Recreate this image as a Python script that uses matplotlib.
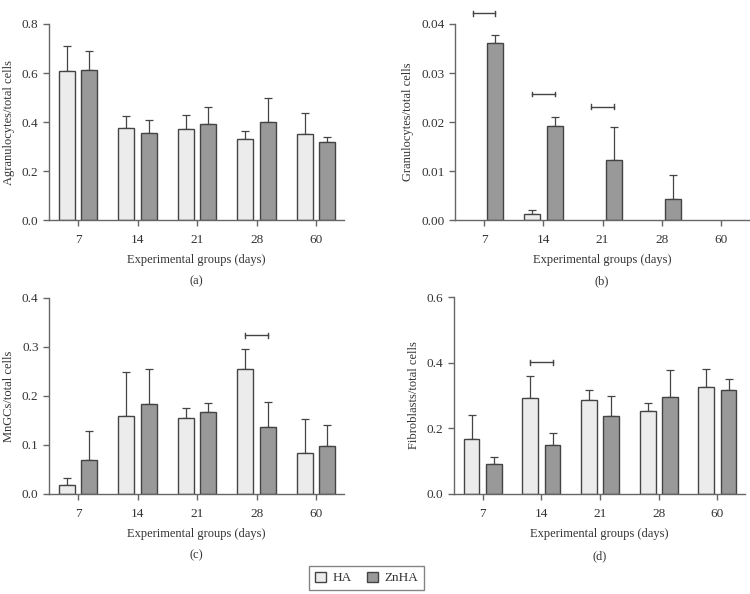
import matplotlib
matplotlib.use("Agg")
import matplotlib.pyplot as plt
from matplotlib.patches import Patch
import numpy as np

# datos
dias = ['7', '14', '21', '28', '60']

agran_ha = [0.607, 0.375, 0.373, 0.329, 0.352]
agran_ha_sd = [0.103, 0.051, 0.054, 0.036, 0.085]
agran_zn = [0.614, 0.356, 0.392, 0.401, 0.320]
agran_zn_sd = [0.077, 0.054, 0.071, 0.096, 0.019]

gran_ha = [0.0, 0.00116, 0.0, 0.0, 0.0]
gran_ha_sd = [0.0, 0.0009, 0.0, 0.0, 0.0]
gran_zn = [0.0361, 0.0192, 0.0122, 0.0042, 0.0]
gran_zn_sd = [0.0017, 0.0019, 0.0068, 0.0049, 0.0]

mngc_ha = [0.018, 0.160, 0.156, 0.254, 0.083]
mngc_ha_sd = [0.015, 0.089, 0.020, 0.041, 0.070]
mngc_zn = [0.070, 0.183, 0.167, 0.137, 0.097]
mngc_zn_sd = [0.058, 0.072, 0.019, 0.051, 0.043]

fibro_ha = [0.166, 0.291, 0.287, 0.253, 0.325]
fibro_ha_sd = [0.076, 0.067, 0.030, 0.023, 0.056]
fibro_zn = [0.091, 0.149, 0.236, 0.295, 0.316]
fibro_zn_sd = [0.023, 0.037, 0.061, 0.082, 0.033]

# (grupo, altura) de las barras de significacion
sig_b = [(0, 0.0422), (1, 0.0257), (2, 0.0231)]
sig_c = [(3, 0.324)]
sig_d = [(1, 0.401)]

plt.rcParams['font.family'] = ['Liberation Serif', 'DejaVu Serif']
plt.rcParams['font.size'] = 9

col_ha = '#ececec'
col_zn = '#999999'
col_edge = '#444444'
col_axis = '#666666'
col_text = '#333333'

fig = plt.figure(figsize=(7.5, 5.94), dpi=100)


def panel(rect, ha, ha_sd, zn, zn_sd, ylim, yticks, fmt, ylabel, letra, sig):
    ax = fig.add_axes(rect)
    x = np.arange(len(dias))
    off = 0.19
    w = 0.27
    for vals, sd, dx, c in [(ha, ha_sd, -off, col_ha), (zn, zn_sd, off, col_zn)]:
        vals = np.array(vals)
        sd = np.array(sd)
        m = vals > 0
        ax.bar(x[m] + dx, vals[m], w, color=c, edgecolor=col_edge, linewidth=1.0, zorder=2)
        ax.errorbar(x[m] + dx, vals[m], yerr=[np.zeros(m.sum()), sd[m]], fmt='none',
                    ecolor=col_edge, elinewidth=0.9, capsize=2.7, capthick=0.9, zorder=1)
    for g, y in sig:
        ax.plot([g - off, g + off], [y, y], color=col_edge, lw=1.0, clip_on=False)
        h = (ylim[1] - ylim[0]) * 0.012
        for xx in (g - off, g + off):
            ax.plot([xx, xx], [y - h, y + h], color=col_edge, lw=1.0, clip_on=False)
    ax.set_xlim(-0.49, 4.47)
    ax.set_ylim(*ylim)
    ax.set_yticks(yticks)
    ax.set_yticklabels([fmt.format(t) for t in yticks])
    ax.set_xticks(x)
    ax.set_xticklabels(dias)
    for s in ['top', 'right']:
        ax.spines[s].set_visible(False)
    for s in ['left', 'bottom']:
        ax.spines[s].set_color(col_axis)
        ax.spines[s].set_linewidth(1.0)
    ax.tick_params(colors=col_axis, labelcolor=col_text, length=4, width=1.0, labelsize=9.5)
    ax.tick_params(axis='x', pad=6)
    ax.set_ylabel(ylabel, color=col_text, fontsize=9, labelpad=5)
    ax.set_xlabel('Experimental groups (days)', color=col_text, fontsize=9, labelpad=6)
    ax.text(0.5, -0.315, letra, transform=ax.transAxes, ha='center', va='center',
            color=col_text, fontsize=9)
    return ax


panel([0.0653, 0.6296, 0.3934, 0.330], agran_ha, agran_ha_sd, agran_zn, agran_zn_sd,
      (0, 0.8), [0, 0.2, 0.4, 0.6, 0.8], '{:.1f}', 'Agranulocytes/total cells', '(a)', [])
panel([0.6067, 0.6296, 0.3920, 0.330], gran_ha, gran_ha_sd, gran_zn, gran_zn_sd,
      (0, 0.04), [0, 0.01, 0.02, 0.03, 0.04], '{:.2f}', 'Granulocytes/total cells', '(b)', sig_b)
panel([0.0653, 0.1684, 0.3934, 0.330], mngc_ha, mngc_ha_sd, mngc_zn, mngc_zn_sd,
      (0, 0.4), [0, 0.1, 0.2, 0.3, 0.4], '{:.1f}', 'MnGCs/total cells', '(c)', sig_c)
panel([0.6053, 0.1684, 0.3880, 0.3316], fibro_ha, fibro_ha_sd, fibro_zn, fibro_zn_sd,
      (0, 0.6), [0, 0.2, 0.4, 0.6], '{:.1f}', 'Fibroblasts/total cells', '(d)', sig_d)

handles = [Patch(facecolor=col_ha, edgecolor=col_edge, label='HA'),
           Patch(facecolor=col_zn, edgecolor=col_edge, label='ZnHA')]
leg = fig.legend(handles=handles, loc='center', bbox_to_anchor=(0.489, 0.027), ncol=2,
                 frameon=True, fancybox=False, handlelength=0.8, handleheight=0.8,
                 handletextpad=0.5, columnspacing=1.2, borderpad=0.45, fontsize=9.5)
leg.get_frame().set_edgecolor(col_axis)
leg.get_frame().set_linewidth(1.0)
for t in leg.get_texts():
    t.set_color(col_text)

fig.savefig('out.png', dpi=100)
